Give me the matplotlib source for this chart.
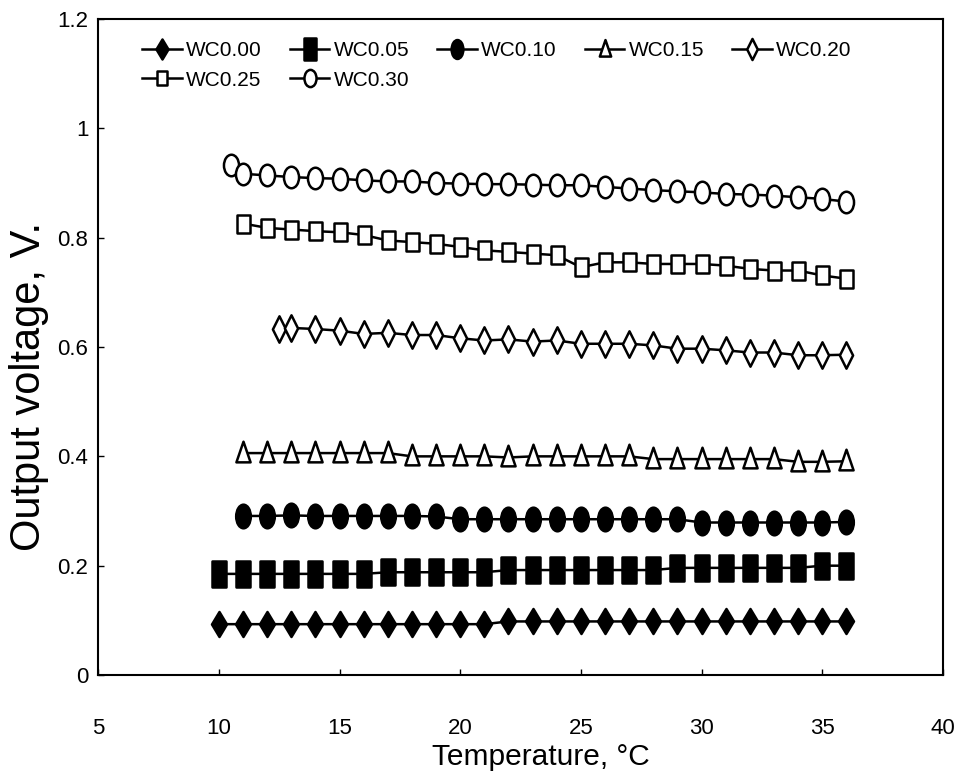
import matplotlib
matplotlib.use("Agg")
import matplotlib.pyplot as plt
from matplotlib.path import Path
from matplotlib.ticker import FuncFormatter

plt.rcParams['font.family'] = ['Liberation Sans', 'DejaVu Sans']

# --- Data ---
labels = ["WC0.00", "WC0.05", "WC0.10", "WC0.15", "WC0.20", "WC0.25", "WC0.30"]

temp_wc000 = [10, 11, 12, 13, 14, 15, 16, 17, 18, 19, 20, 21, 22, 23, 24, 25, 26, 27, 28, 29, 30, 31, 32, 33, 34, 35, 36]
volt_wc000 = [0.093, 0.093, 0.093, 0.093, 0.093, 0.093, 0.093, 0.093, 0.093, 0.093, 0.093, 0.093,
              0.098, 0.098, 0.098, 0.098, 0.098, 0.098, 0.098, 0.098, 0.098, 0.098, 0.098, 0.098, 0.098, 0.098, 0.098]

temp_wc005 = [10, 11, 12, 13, 14, 15, 16, 17, 18, 19, 20, 21, 22, 23, 24, 25, 26, 27, 28, 29, 30, 31, 32, 33, 34, 35, 36]
volt_wc005 = [0.185, 0.185, 0.185, 0.185, 0.185, 0.185, 0.185, 0.188, 0.188, 0.188, 0.188, 0.188,
              0.192, 0.192, 0.192, 0.192, 0.192, 0.192, 0.192, 0.196, 0.196, 0.196, 0.196, 0.196, 0.196, 0.200, 0.200]

temp_wc010 = [11, 12, 13, 14, 15, 16, 17, 18, 19, 20, 21, 22, 23, 24, 25, 26, 27, 28, 29, 30, 31, 32, 33, 34, 35, 36]
volt_wc010 = [0.291, 0.291, 0.292, 0.291, 0.291, 0.291, 0.291, 0.291, 0.290, 0.285, 0.285, 0.285, 0.285,
              0.285, 0.285, 0.285, 0.285, 0.285, 0.285, 0.279, 0.279, 0.279, 0.279, 0.279, 0.279, 0.280]

temp_wc015 = [11, 12, 13, 14, 15, 16, 17, 18, 19, 20, 21, 22, 23, 24, 25, 26, 27, 28, 29, 30, 31, 32, 33, 34, 35, 36]
volt_wc015 = [0.406, 0.406, 0.406, 0.406, 0.406, 0.406, 0.406, 0.400, 0.400, 0.400, 0.400, 0.398, 0.400,
              0.400, 0.400, 0.400, 0.400, 0.395, 0.395, 0.395, 0.395, 0.395, 0.395, 0.390, 0.390, 0.391]

temp_wc020 = [12.5, 13, 14, 15, 16, 17, 18, 19, 20, 21, 22, 23, 24, 25, 26, 27, 28, 29, 30, 31, 32, 33, 34, 35, 36]
volt_wc020 = [0.633, 0.635, 0.633, 0.630, 0.624, 0.626, 0.622, 0.622, 0.616, 0.612, 0.614, 0.610, 0.612,
              0.606, 0.606, 0.606, 0.603, 0.597, 0.597, 0.594, 0.590, 0.590, 0.585, 0.585, 0.586]

temp_wc025 = [11, 12, 13, 14, 15, 16, 17, 18, 19, 20, 21, 22, 23, 24, 25, 26, 27, 28, 29, 30, 31, 32, 33, 34, 35, 36]
volt_wc025 = [0.826, 0.818, 0.815, 0.812, 0.810, 0.805, 0.795, 0.792, 0.789, 0.783, 0.777, 0.774, 0.771,
              0.768, 0.746, 0.755, 0.755, 0.752, 0.752, 0.752, 0.749, 0.743, 0.740, 0.740, 0.731, 0.725]

temp_wc030 = [10.5, 11, 12, 13, 14, 15, 16, 17, 18, 19, 20, 21, 22, 23, 24, 25, 26, 27, 28, 29, 30, 31, 32, 33, 34, 35, 36]
volt_wc030 = [0.933, 0.917, 0.914, 0.911, 0.909, 0.908, 0.905, 0.903, 0.903, 0.900, 0.899, 0.898, 0.898, 0.897,
              0.896, 0.896, 0.893, 0.890, 0.887, 0.885, 0.883, 0.880, 0.879, 0.877, 0.874, 0.871, 0.866]

temps = [temp_wc000, temp_wc005, temp_wc010, temp_wc015, temp_wc020, temp_wc025, temp_wc030]
volts = [volt_wc000, volt_wc005, volt_wc010, volt_wc015, volt_wc020, volt_wc025, volt_wc030]

# --- Markers: tall (vertically stretched) shapes like the scanned figure ---
def closed(pts):
    return Path(pts + [pts[0]], [Path.MOVETO] + [Path.LINETO] * (len(pts) - 1) + [Path.CLOSEPOLY])

diamond = closed([(0, -1), (0.6, 0), (0, 1), (-0.6, 0)])
diamond_open = closed([(0, -1), (0.5, 0), (0, 1), (-0.5, 0)])
rect = closed([(-0.55, -1), (0.55, -1), (0.55, 1), (-0.55, 1)])
open_rect = closed([(-0.72, -1), (0.72, -1), (0.72, 1), (-0.72, 1)])
tri = closed([(-0.6, -0.75), (0.6, -0.75), (0, 1)])
circ = Path.unit_circle()
ellipse = Path(circ.vertices * [0.62, 1.0], circ.codes)
ellipse_open = Path(circ.vertices * [0.7, 1.0], circ.codes)

styles = [
    dict(marker=diamond, ms=18, mfc="black"),
    dict(marker=rect, ms=19, mfc="black"),
    dict(marker=ellipse, ms=17, mfc="black"),
    dict(marker=tri, ms=17, mfc="white"),
    dict(marker=diamond_open, ms=19, mfc="white"),
    dict(marker=open_rect, ms=13, mfc="white"),
    dict(marker=ellipse_open, ms=15.5, mfc="white"),
]

fig = plt.figure(figsize=(9.72, 7.79), dpi=100)
ax = fig.add_axes([0.101, 0.1335, 0.869, 0.842])

lines = []
for t, v, lab, st in zip(temps, volts, labels, styles):
    ln, = ax.plot(t, v, color="black", lw=1.8, mec="black", mew=1.8, label=lab, **st)
    lines.append(ln)

ax.set_xlim(5, 40)
ax.set_ylim(0, 1.2)
ax.set_xticks([5, 10, 15, 20, 25, 30, 35, 40])
ax.set_yticks([0, 0.2, 0.4, 0.6, 0.8, 1.0, 1.2])
ax.yaxis.set_major_formatter(FuncFormatter(lambda val, pos: f"{val:g}"))
ax.tick_params(direction="in", length=4, width=1, labelsize=16)
ax.tick_params(axis="x", pad=31)
ax.tick_params(axis="y", pad=7)
for sp in ax.spines.values():
    sp.set_linewidth(1.5)

ax.set_xlabel("Temperature, °C", fontsize=21.5)
ax.xaxis.set_label_coords(0.524, -0.104)
ax.set_ylabel("Output voltage, V.", fontsize=30)
ax.yaxis.set_label_coords(-0.058, 0.44)

# row-major legend order (matplotlib fills columns first)
order = [0, 5, 1, 6, 2, 3, 4]
leg = ax.legend([lines[i] for i in order], [labels[i] for i in order],
                ncol=5, loc="upper left", bbox_to_anchor=(0.03, 0.995), frameon=False,
                fontsize=15, handlelength=1.9, handletextpad=0.2, columnspacing=1.35,
                labelspacing=0.5, markerscale=0.8)

fig.savefig("out.png", dpi=100)
